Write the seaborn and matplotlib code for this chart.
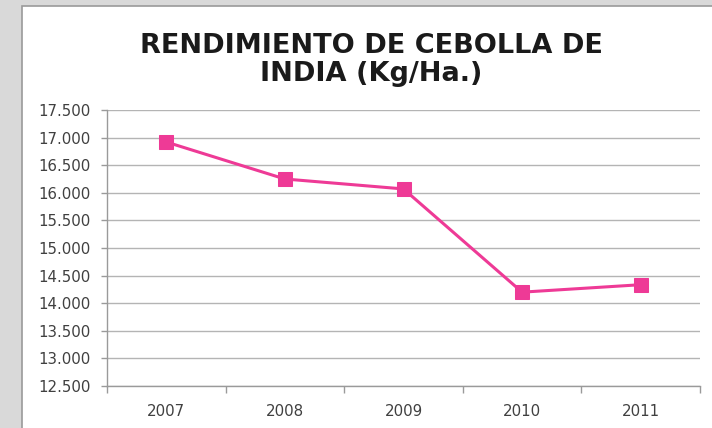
import matplotlib
matplotlib.use("Agg")
import matplotlib.pyplot as plt
import seaborn as sns
import pandas as pd
import numpy as np
from matplotlib.patches import Rectangle
from matplotlib.ticker import FixedLocator, FuncFormatter

years = ["2007", "2008", "2009", "2010", "2011"]
rendimiento = [16920, 16250, 16070, 14200, 14335]
y_ticks = [12500, 13000, 13500, 14000, 14500, 15000, 15500, 16000, 16500, 17000, 17500]
title = "RENDIMIENTO DE CEBOLLA DE\nINDIA (Kg/Ha.)"

sns.set_theme(style="white")
plt.rcParams['font.family'] = ['DejaVu Sans']

df = pd.DataFrame({"year": years, "value": rendimiento})

fig = plt.figure(figsize=(7.12, 4.28), dpi=100)
fig.patch.set_facecolor("#d9d9d9")

# background axes holding the white chart area
bg = fig.add_axes([0, 0, 1, 1], zorder=-5)
bg.set_axis_off()
bg.set_xlim(0, 1)
bg.set_ylim(0, 1)
bg.add_patch(Rectangle((22/712, -0.01), 1, 1.01 - 6/428, facecolor="white",
                       edgecolor="#9a9a9a", linewidth=1.2))

ax = fig.add_axes([107/712, 1 - 386/428, (700 - 107)/712, (386 - 110)/428])
ax.set_facecolor("white")

pink = "#EE3A96"
sns.lineplot(data=df, x="year", y="value", ax=ax, color=pink, linewidth=2.2,
             marker="s", markersize=10.5, markeredgecolor=pink, markerfacecolor=pink,
             zorder=3)

ax.set_xlim(-0.5, len(years) - 0.5)
ax.set_ylim(y_ticks[0], y_ticks[-1])
ax.yaxis.set_major_locator(FixedLocator(y_ticks))
ax.yaxis.set_major_formatter(FuncFormatter(lambda v, p: f"{int(v):,}".replace(",", ".")))
ax.grid(axis="y", color="#b4b4b4", linewidth=1)
ax.grid(axis="x", visible=False)
ax.set_axisbelow(True)

ax.set_xticks(range(len(years)))
ax.set_xticklabels(years)
ax.set_xticks(np.arange(-0.5, len(years), 1.0), minor=True)
ax.tick_params(axis="x", which="major", length=0, pad=13, labelsize=10.8, labelcolor="#404040")
ax.tick_params(axis="x", which="minor", length=5, color="#9a9a9a", width=1, bottom=True)
ax.tick_params(axis="y", which="major", length=4.5, color="#9a9a9a", width=1, left=True,
               pad=7, labelsize=10.8, labelcolor="#404040")

for s in ["top", "right"]:
    ax.spines[s].set_visible(False)
for s in ["left", "bottom"]:
    ax.spines[s].set_color("#9a9a9a")
    ax.spines[s].set_linewidth(1)

ax.set_xlabel("")
ax.set_ylabel("")

fig.text(371/712, 1 - 60/428, title, ha="center", va="center", fontsize=19.5,
         fontweight="bold", color="#1a1a1a", linespacing=1.12)

fig.savefig("out.png", dpi=100, facecolor=fig.get_facecolor())
